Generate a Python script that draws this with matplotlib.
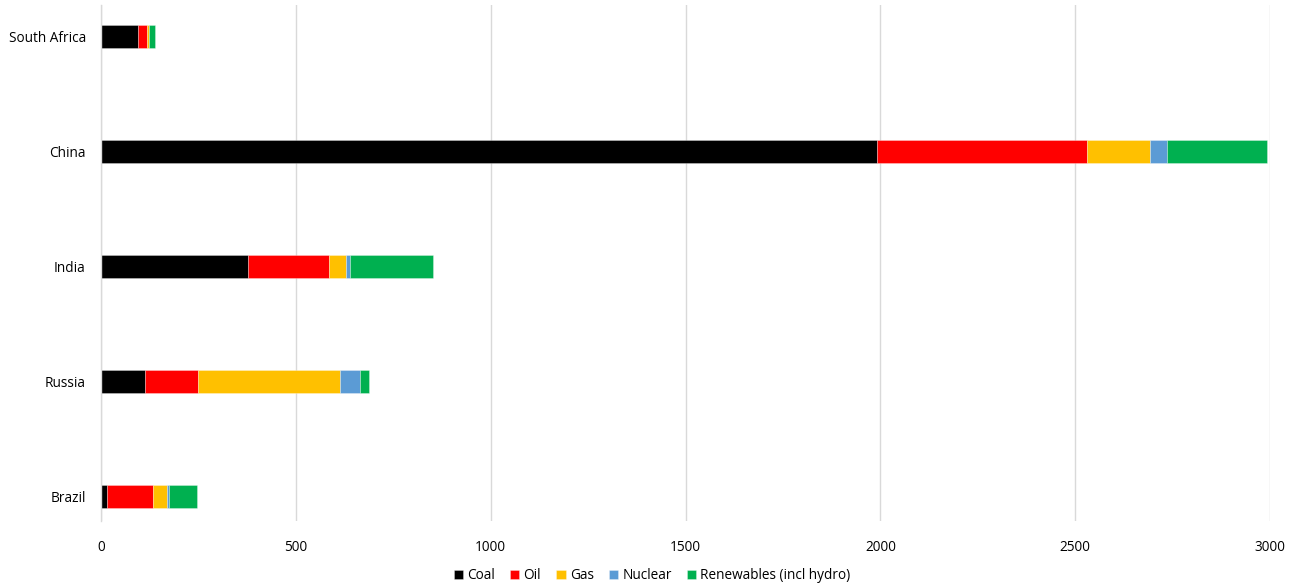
import matplotlib
matplotlib.use("Agg")
import matplotlib.pyplot as plt
import numpy as np

countries = ["Brazil", "Russia", "India", "China", "South Africa"]
coal = [15, 113, 377, 1992, 96]
oil = [118, 135, 207, 539, 23]
gas = [36, 366, 44, 161, 4]
nuclear = [5, 51, 10, 44, 1]
renewables = [73, 22, 213, 257, 15]
series_names = ["Coal", "Oil", "Gas", "Nuclear", "Renewables (incl hydro)"]
colors = ["#000000", "#FF0000", "#FFC000", "#5B9BD5", "#00B050"]
xticks = [0, 500, 1000, 1500, 2000, 2500, 3000]

plt.rcParams['font.family'] = ['Open Sans', 'DejaVu Sans']
fig = plt.figure(figsize=(12.99, 5.86), dpi=100)
ax = fig.add_axes([0.0778, 0.111, 0.9, 0.8805])

y = np.arange(len(countries))
left = np.zeros(len(countries))
for vals, name, c in zip([coal, oil, gas, nuclear, renewables], series_names, colors):
    ax.barh(y, vals, left=left, height=0.2, color=c, label=name,
            edgecolor=(1, 1, 1, 0.35), linewidth=0.6)
    left += np.array(vals)

ax.set_xlim(0, 3000)
ax.set_ylim(-0.21, 4.27)
ax.set_xticks(xticks)
ax.set_xticklabels([str(t) for t in xticks])
ax.set_yticks(y)
ax.set_yticklabels(countries)
ax.tick_params(axis='both', length=0, labelsize=9.8, colors='#000000')
ax.tick_params(axis='x', pad=14)
ax.tick_params(axis='y', pad=11)
ax.grid(axis='x', color='#D9D9D9', linewidth=1)
ax.set_axisbelow(True)
for s in ['top', 'right', 'bottom']:
    ax.spines[s].set_visible(False)
ax.spines['left'].set_color('#D9D9D9')
ax.spines['left'].set_linewidth(1)

leg = fig.legend(loc='lower center', bbox_to_anchor=(0.502, -0.016), ncol=5, frameon=False,
                 fontsize=9.8, handlelength=0.7, handleheight=0.7, handletextpad=0.3,
                 columnspacing=1.1)
fig.savefig("out.png", dpi=100)
